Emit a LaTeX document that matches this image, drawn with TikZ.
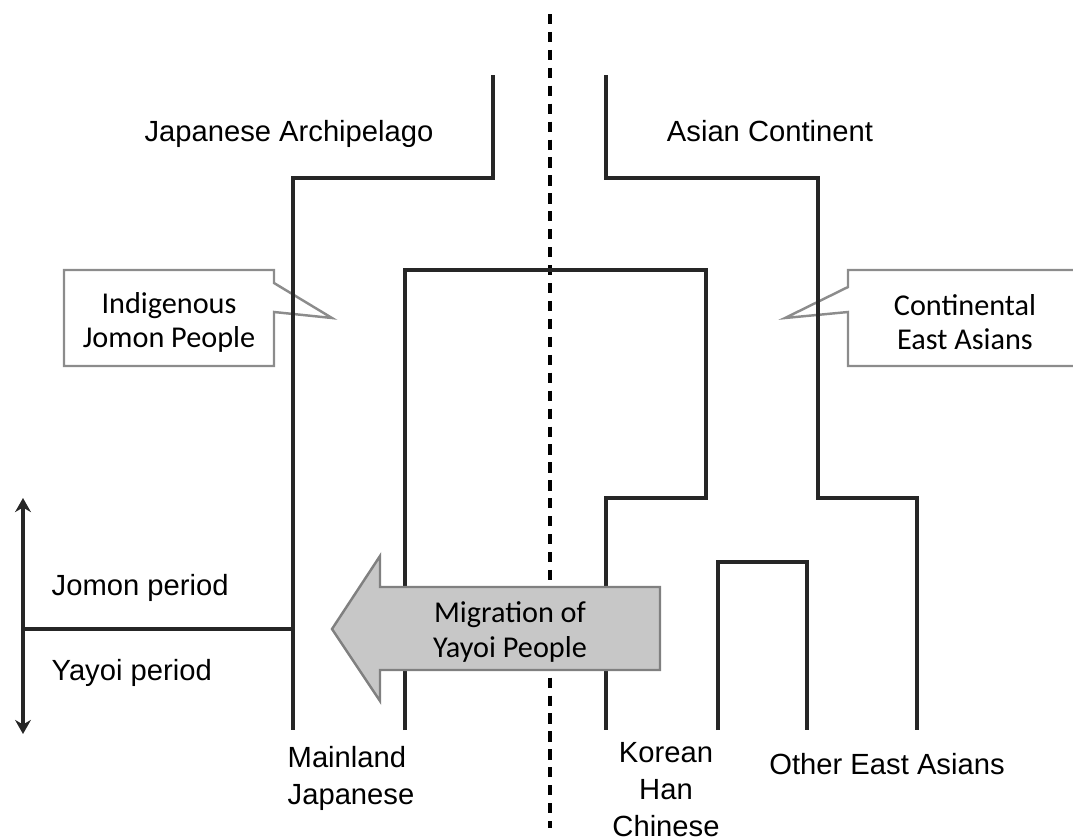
\documentclass[tikz,border=0pt]{standalone}
\usepackage{fontspec}
\setmainfont{Liberation Sans}
\newfontfamily\calib{Carlito}
\usetikzlibrary{arrows.meta}
\tikzset{lin/.style={line width=.9pt,black!85},
lbl/.style={font=\fontsize{8.3}{10.5}\selectfont,inner sep=0pt,align=center},
cbox/.style={draw=black!45,line width=.7pt},
ctxt/.style={font=\calib\fontsize{8.6}{9.7}\selectfont,inner sep=0pt,align=center}}
\begin{document}
\begin{tikzpicture}[x=.01cm,y=-.01cm]
\useasboundingbox(0,0)rectangle(1073,839);
\clip(0,0)rectangle(1073,839);
\coordinate(jtop)at(493,75);\coordinate(jsplit)at(293,178);\coordinate(mjl)at(293,730);
\coordinate(ctop)at(606,75);\coordinate(csplit)at(818,178);\coordinate(cfork)at(818,498);\coordinate(oth)at(917,730);
\coordinate(ysplit)at(405,270);\coordinate(mjr)at(405,730);\coordinate(kfork)at(706,498);\coordinate(kor)at(606,730);
\coordinate(ol)at(718,730);\coordinate(otop)at(807,562);\coordinate(or)at(807,730);
\coordinate(ptop)at(23,498);\coordinate(pbot)at(23,734);\coordinate(pmid)at(23,629);\coordinate(jbar)at(293,629);
\coordinate(dtop)at(550,14);\coordinate(dbot)at(550,828);
\draw[line width=1pt,dash pattern=on 2.9pt off 2.2pt](dtop)--(dbot);
\draw[cbox](64,270)--(274,270)--(274,283)--(332,318)--(274,312)--(274,366)--(64,366)--cycle;
\draw[cbox](1090,270)--(848,270)--(848,287)--(785,318)--(848,312)--(848,366)--(1090,366);
\draw[lin](jtop)|-(jsplit)--(mjl);
\draw[lin](ctop)|-(csplit)--(cfork)-|(oth);
\draw[lin](mjr)--(ysplit)-|(kfork)-|(kor);
\draw[lin](ol)|-(otop)--(or);
\draw[lin,{Stealth[length=4pt,width=4.5pt]}-{Stealth[length=4pt,width=4.5pt]}](ptop)--(pbot);
\draw[lin](pmid)--(jbar);
\draw[draw=black!50,fill=black!22,line width=.7pt](660,587)--(380,587)--(380,556)--(332,629)--(380,701)--(380,670)--(660,670)--cycle;
\node[lbl](arch)at(289,134){Japanese Archipelago};
\node[lbl](cont)at(770,131){Asian Continent};
\node[ctxt](jomon)at(169,322){Indigenous\\Jomon People};
\node[ctxt](east)at(965,322){Continental\\East Asians};
\node[lbl,anchor=west](jper)at(51,588){Jomon period};
\node[lbl,anchor=west](yper)at(51,673){Yayoi period};
\node[ctxt](migr)at(510,632){Migration of\\Yayoi People};
\node[lbl,align=left,anchor=west](mainl)at(287,778){Mainland\\Japanese};
\node[lbl](korean)at(666,790){Korean\\Han\\Chinese};
\node[lbl](other)at(887,764){Other East Asians};
\end{tikzpicture}
\end{document}
